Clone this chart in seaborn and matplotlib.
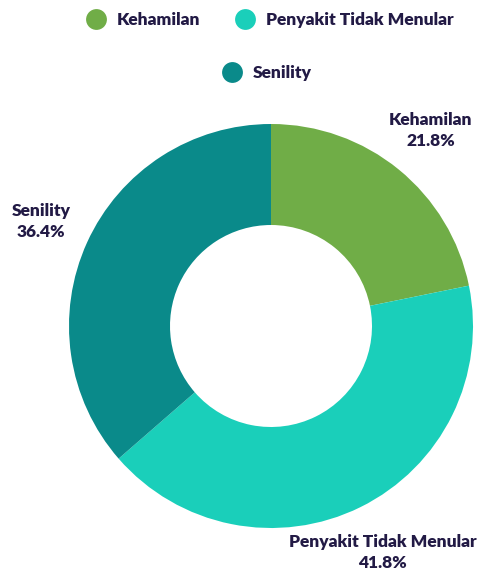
import matplotlib.pyplot as plt
import seaborn as sns
from matplotlib.lines import Line2D

categories = ['Kehamilan', 'Penyakit Tidak Menular', 'Senility']
percentages = [21.8, 41.8, 36.4]
colors = ['#70ad47', '#1acfba', '#0a8a8a']

text_color = '#221a45'

sns.set_theme(style='white')
plt.rcParams['font.family'] = ['Lato', 'DejaVu Sans']

fig = plt.figure(figsize=(4.91, 5.85), dpi=100)
# pie centre at (271, 326) px, radius ~202 px
cx, cy, r = 271, 326, 202
ax = fig.add_axes([(cx - r) / 491, (585 - cy - r) / 585, 2 * r / 491, 2 * r / 585])

labels = [f'{c}\n{p}%' for c, p in zip(categories, percentages)]
ax.pie(percentages, labels=labels, colors=colors, startangle=90, counterclock=False,
       radius=1, labeldistance=1.25,
       wedgeprops=dict(width=0.5, edgecolor='none'),
       textprops=dict(ha='center', va='center', multialignment='center',
                      color=text_color, fontsize=12.5, fontweight='heavy', linespacing=1.35))
ax.set_xlim(-1, 1)
ax.set_ylim(-1, 1)

def handle(col):
    return Line2D([], [], marker='o', linestyle='none', markersize=15,
                  markerfacecolor=col, markeredgecolor='none')

leg1 = fig.legend([handle(colors[0]), handle(colors[1])], categories[:2],
                  loc='center', bbox_to_anchor=(0.542, 1 - 20 / 585), ncol=2, frameon=False,
                  handletextpad=0.2, columnspacing=1.6,
                  prop=dict(weight='heavy', size=12.5))
for t in leg1.get_texts():
    t.set_color(text_color)
leg2 = fig.legend([handle(colors[2])], categories[2:],
                  loc='center', bbox_to_anchor=(0.536, 1 - 73 / 585), frameon=False,
                  handletextpad=0.2, prop=dict(weight='heavy', size=12.5))
for t in leg2.get_texts():
    t.set_color(text_color)

fig.savefig('out.png', dpi=100, facecolor='white')
